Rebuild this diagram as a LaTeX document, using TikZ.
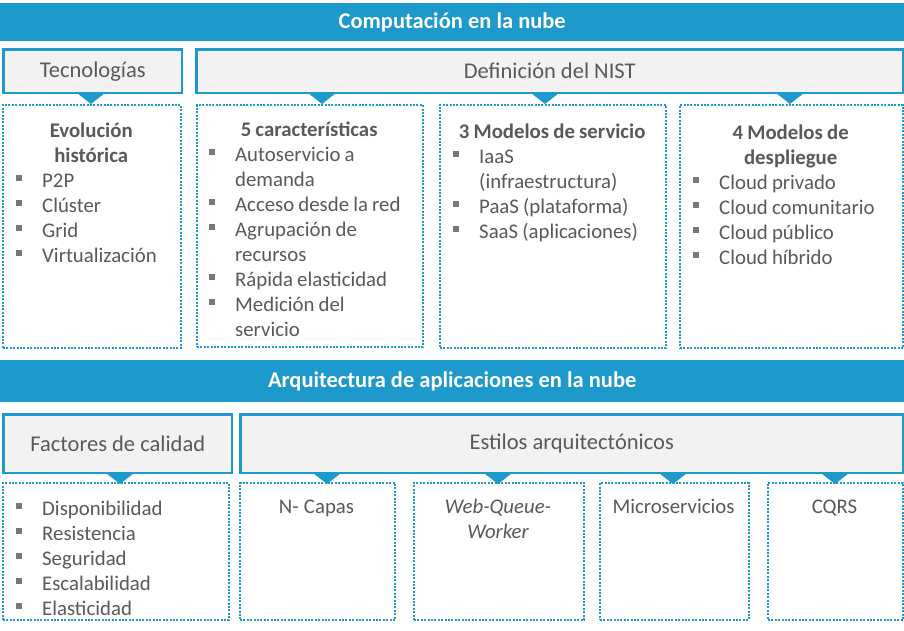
\documentclass[tikz,border=0pt]{standalone}
\usepackage{fontspec}
\setmainfont{Carlito}
\usepackage{xcolor}
\usepackage{tikz}
\usetikzlibrary{positioning,calc}

\definecolor{nubeazul}{RGB}{30,153,204}
\definecolor{cabgris}{RGB}{242,242,242}
\definecolor{textogris}{RGB}{89,89,89}
\definecolor{vinetagris}{RGB}{120,120,120}

\newcommand{\juntar}{\spaceskip=0.2em plus 0.05em\relax}
\newcommand{\primera}[1]{\noindent\hangindent=26pt\hangafter=1\makebox[26pt][l]{\textcolor{vinetagris}{\rule[6pt]{5.5pt}{6pt}}}#1}
\newcommand{\vineta}[1]{\par\primera{#1}}
\newcommand{\titulo}[1]{{\centering\fontsize{20.8}{25}\selectfont\bfseries #1\par}}
\newcommand{\pico}[2]{\fill[punta] (#1-14,#2) -- (#1+14,#2) -- (#1,#2+11) -- cycle;}

\begin{document}
\begin{tikzpicture}[x=1pt, y=-1pt,
    banda/.style={rectangle, fill=nubeazul, text=white, font=\fontsize{22.5}{26}\selectfont\bfseries, anchor=north west, inner sep=0pt, minimum width=904pt},
    cabecera/.style={rectangle, draw=nubeazul, line width=2.5pt, fill=cabgris, text=textogris, font=\fontsize{22.5}{27}\selectfont, anchor=north west, inner sep=0pt},
    marco/.style={rectangle, draw=nubeazul, line width=2pt, dash pattern=on 2pt off 1.4pt, anchor=north west, inner sep=0pt},
    lista/.style={text=textogris, font=\fontsize{20.8}{25}\selectfont, anchor=base west, inner sep=0pt},
    estilo/.style={text=textogris, font=\fontsize{20.8}{25}\selectfont, anchor=base, inner sep=0pt, text width=160pt, align=center},
    punta/.style={fill=nubeazul}]
  \useasboundingbox (0,0) rectangle (904,630);
  \fill[white] (0,0) rectangle (904,630);

  \node[banda, minimum height=38pt] (nube) at (0,3) {Computación en la nube};
  \node[cabecera, minimum width=178.5pt, minimum height=43.5pt] (tecno) at (2.25,48.25) {Tecnologías};
  \node[cabecera, minimum width=706.5pt, minimum height=43.5pt] (nist) at (195.25,48.25) {Definición del NIST};

  \node[marco, minimum width=178pt, minimum height=243pt] (m1) at (2,104) {};
  \node[marco, minimum width=226pt, minimum height=242pt] (m2) at (196,104) {};
  \node[marco, minimum width=226pt, minimum height=243pt] (m3) at (439,104) {};
  \node[marco, minimum width=223pt, minimum height=243pt] (m4) at (679,104) {};
  \pico{91}{93}
  \pico{322}{93}
  \pico{545}{93}
  \pico{790}{93}

  \node[lista, text width=150pt] (evolucion) at (16,137) {\raggedright\rightskip=-25pt plus 1fil\juntar
    \titulo{Evolución\\histórica}
    \vineta{P2P}
    \vineta{Clúster}
    \vineta{Grid}
    \vineta{Virtualización}\par};
  \node[lista, text width=200pt] (caract) at (209,136) {\raggedright\rightskip=-25pt plus 1fil\juntar
    \titulo{5 características}
    \vineta{Autoservicio a\newline demanda}
    \vineta{Acceso desde la red}
    \vineta{Agrupación de\newline recursos}
    \vineta{Rápida elasticidad}
    \vineta{Medición del\newline servicio}\par};
  \node[lista, text width=198pt] (servicio) at (453,138) {\raggedright\rightskip=-25pt plus 1fil\juntar
    \titulo{3 Modelos de servicio}
    \vineta{IaaS\newline (infraestructura)}
    \vineta{PaaS (plataforma)}
    \vineta{SaaS (aplicaciones)}\par};
  \node[lista, text width=195pt] (despliegue) at (693,139) {\raggedright\rightskip=-25pt plus 1fil\juntar
    \titulo{4 Modelos de\\despliegue}
    \vineta{Cloud privado}
    \vineta{Cloud comunitario}
    \vineta{Cloud público}
    \vineta{Cloud híbrido}\par};

  \node[banda, minimum height=42pt] (arqui) at (0,360) {Arquitectura de aplicaciones en la nube};
  \node[cabecera, minimum width=228.5pt, minimum height=58.5pt] (factores) at (2.25,413.25) {Factores de calidad};
  \node[cabecera, minimum width=662.5pt, minimum height=58.5pt] (estilos) at (239.25,413.25) {Estilos arquitectónicos};

  \node[marco, minimum width=226pt, minimum height=137pt] (ma) at (2,482) {};
  \node[marco, minimum width=155pt, minimum height=137pt] (mb) at (239,482) {};
  \node[marco, minimum width=170pt, minimum height=137pt] (mc) at (413,482) {};
  \node[marco, minimum width=149pt, minimum height=137pt] (md) at (599,482) {};
  \node[marco, minimum width=135pt, minimum height=137pt] (me) at (767,482) {};
  \pico{120}{473}
  \pico{327}{473}
  \pico{498}{473}
  \pico{673}{473}
  \pico{835}{473}

  \node[lista, text width=198pt] (calidad) at (16,515) {\raggedright\rightskip=-25pt plus 1fil\juntar
    \primera{Disponibilidad}
    \vineta{Resistencia}
    \vineta{Seguridad}
    \vineta{Escalabilidad}
    \vineta{Elasticidad}\par};
  \node[estilo] (capas) at (316.5,513) {\juntar N- Capas};
  \node[estilo] (cola) at (498,513) {\juntar\itshape Web-Queue-\\Worker};
  \node[estilo] (micro) at (673.5,513) {Microservicios};
  \node[estilo] (cqrs) at (834.5,513) {CQRS};
\end{tikzpicture}
\end{document}
